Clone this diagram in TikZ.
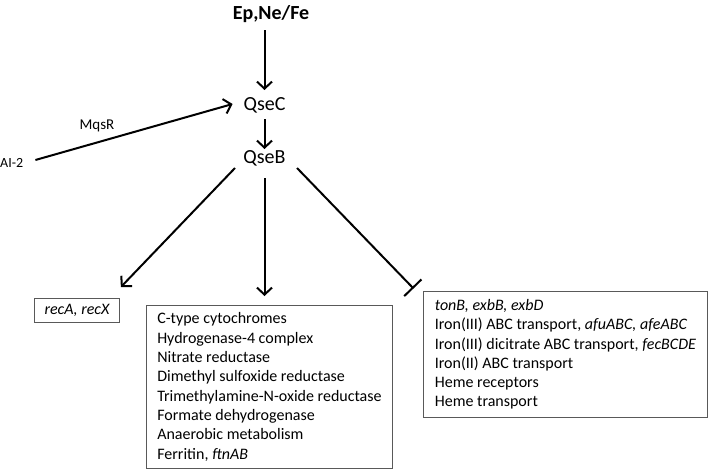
\documentclass[tikz,border=0pt]{standalone}
\usepackage{fontspec}
\setmainfont{Carlito}
\usetikzlibrary{arrows.meta,calc}
\begin{document}
\begin{tikzpicture}[x=1pt,y=-1pt,
  lab/.style={inner sep=0pt, font=\fontsize{20}{24}\selectfont},
  conn/.style={line width=2pt, -{Straight Barb[length=7pt,width=15pt]}},
  inhib/.style={line width=2pt, -{Bar[width=24pt]}},
  genebox/.style={draw=black!65, line width=0.9pt, font=\fontsize{16}{19.3}\selectfont, align=left, anchor=north west, inner xsep=0pt, inner ysep=2pt}]
\useasboundingbox (0,0) rectangle (709,471);
% labels
\node[lab, font=\bfseries\fontsize{20}{24}\selectfont, anchor=base] (ep) at (271,19.5) {Ep,Ne/Fe};
\node[lab, anchor=base] (qsec) at (264.5,110) {QseC};
\node[lab, anchor=base] (qseb) at (264.5,163.5) {QseB};
\node[inner sep=0pt, anchor=base west, font=\fontsize{14}{17}\selectfont] (ai2) at (0,167) {AI-2};
\node[inner sep=0pt, anchor=base, font=\fontsize{15}{18}\selectfont] (mqsr) at (97,129.5) {MqsR};
% boxes
\node[genebox, minimum width=85pt, minimum height=24pt] (rec) at (34,298) {\itshape recA, recX};
\node[genebox, minimum width=246pt, minimum height=163pt] (mid) at (146,305) {C-type cytochromes\\
Hydrogenase-4 complex\\
Nitrate reductase\\
Dimethyl sulfoxide reductase\\
Trimethylamine-N-oxide reductase\\
Formate dehydrogenase\\
Anaerobic metabolism\\
Ferritin, \textit{ftnAB}};
\node[genebox, minimum width=284pt, minimum height=126pt] (iron) at (423,291) {\textit{tonB, exbB, exbD}\\
Iron(III) ABC transport, \textit{afuABC, afeABC}\\
Iron(III) dicitrate ABC transport, \textit{fecBCDE}\\
Iron(II) ABC transport\\
Heme receptors\\
Heme transport};
% connectors
\draw[conn] ($(qsec.base |- ep.base)+(0,10.5)$) -- ($(qsec.base)+(0,-20)$);
\draw[conn] ($(qsec.base)+(0,9)$) -- ($(qseb.base)+(0,-14.5)$);
\draw[conn] ($(ai2.base east)+(12,-7)$) -- ($(qsec.base west)+(-10.75,-6)$);
\draw[conn] ($(qseb.base)+(-29.5,4.5)$) -- ($(rec.north east)+(1,-11)$);
\draw[conn] ($(qseb.base)+(0,14.5)$) -- ($(qseb.base |- mid.north)+(0,-9)$);
\draw[inhib] ($(qseb.base)+(32.5,4.5)$) -- ($(iron.north west)+(-9.5,-2.5)$);
\end{tikzpicture}
\end{document}
